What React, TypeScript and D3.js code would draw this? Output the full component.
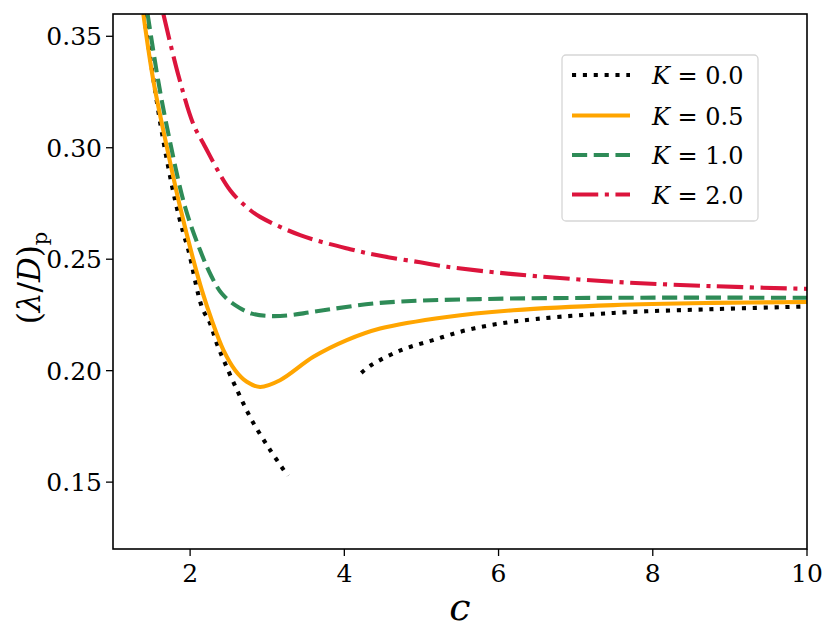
import * as d3 from "d3";
import { useEffect, useRef } from "react";

// K = 0.0 has two separate branches
const cK0a = [1.40, 1.51, 1.64, 1.805, 1.909, 1.978, 2.152, 2.259, 2.346, 2.454, 2.626, 2.80, 3.038, 3.267];
const yK0a = [0.360, 0.3339, 0.3056, 0.2765, 0.2621, 0.254, 0.2286, 0.2212, 0.2122, 0.2032, 0.190, 0.1778, 0.1644, 0.1528];
const cK0b = [4.22, 4.35, 4.72, 5.15, 5.6, 6.19, 7.49, 8.79, 10.0];
const yK0b = [0.199, 0.2025, 0.209, 0.2137, 0.2183, 0.222, 0.2259, 0.2276, 0.2288];

const cK05 = [1.394, 1.524, 1.698, 1.87, 2.043, 2.152, 2.281, 2.432, 2.584, 2.735, 2.907, 3.166, 3.599, 4.032, 4.464, 5.329, 6.193, 7.49, 8.787, 10.0];
const yK05 = [0.3599, 0.330, 0.3004, 0.2734, 0.2496, 0.2361, 0.2226, 0.2092, 0.2002, 0.195, 0.1927, 0.1957, 0.2062, 0.2137, 0.2189, 0.2241, 0.2271, 0.2294, 0.2304, 0.2308];

const cK1 = [1.449, 1.585, 1.719, 1.935, 2.13, 2.281, 2.411, 2.584, 2.80, 3.05, 3.298, 3.599, 4.464, 5.761, 7.49, 10.0];
const yK1 = [0.3599, 0.3303, 0.3061, 0.2734, 0.254, 0.242, 0.2346, 0.2294, 0.2256, 0.2245, 0.2249, 0.2264, 0.2304, 0.2321, 0.2327, 0.2327];

const cK2 = [1.654, 1.844, 2.043, 2.172, 2.519, 2.756, 2.907, 3.427, 4.075, 4.503, 4.983, 5.333, 6.189, 7.486, 8.783, 10.0];
const yK2 = [0.3599, 0.333, 0.3105, 0.3019, 0.2809, 0.2727, 0.269, 0.2608, 0.2545, 0.2513, 0.2486, 0.2466, 0.2433, 0.2399, 0.2379, 0.2367];

const xTicks = [2, 4, 6, 8, 10];
const yTicks = [0.15, 0.2, 0.25, 0.3, 0.35];
const legendLabels = ["0.0", "0.5", "1.0", "2.0"];

const W = 831;
const H = 638;
const LW = 4.1;

const styles = [
  { color: "#000000", dash: `${1 * LW},${1.65 * LW}` },
  { color: "#ffa500", dash: "none" },
  { color: "#2e8b57", dash: `${3.7 * LW},${1.6 * LW}` },
  { color: "#dc143c", dash: `${6.4 * LW},${1.6 * LW},${1 * LW},${1.6 * LW}` },
];

const FONT = '"DejaVu Serif", serif';

const zip = (cs: number[], ys: number[]) => cs.map((c, i) => ({ c, y: ys[i] }));

const App = () => {
  const svgRef = useRef<SVGSVGElement | null>(null);

  useEffect(() => {
    const left = 113, right = 807, top = 14, bottom = 549;
    const svg = d3.select(svgRef.current);
    svg.selectAll("*").remove();

    const x = d3.scaleLinear().domain([1, 10]).range([left, right]);
    const y = d3.scaleLinear().domain([0.12, 0.36]).range([bottom, top]);

    svg
      .append("defs")
      .append("clipPath")
      .attr("id", "plot-clip")
      .append("rect")
      .attr("x", left)
      .attr("y", top)
      .attr("width", right - left)
      .attr("height", bottom - top);

    const line = d3
      .line<{ c: number; y: number }>()
      .x((d) => x(d.c))
      .y((d) => y(d.y))
      .curve(d3.curveCatmullRom.alpha(0.5));

    const series = [
      { data: [zip(cK0a, yK0a), zip(cK0b, yK0b)], s: styles[0] },
      { data: [zip(cK05, yK05)], s: styles[1] },
      { data: [zip(cK1, yK1)], s: styles[2] },
      { data: [zip(cK2, yK2)], s: styles[3] },
    ];

    const g = svg.append("g").attr("clip-path", "url(#plot-clip)");
    series.forEach(({ data, s }) => {
      data.forEach((pts) => {
        g.append("path")
          .attr("d", line(pts))
          .attr("fill", "none")
          .attr("stroke", s.color)
          .attr("stroke-width", LW)
          .attr("stroke-dasharray", s.dash);
      });
    });

    // frame
    svg
      .append("rect")
      .attr("x", left)
      .attr("y", top)
      .attr("width", right - left)
      .attr("height", bottom - top)
      .attr("fill", "none")
      .attr("stroke", "#000")
      .attr("stroke-width", 1.6);

    const txt = svg.append("g").style("font-family", FONT);

    // x ticks
    xTicks.forEach((t) => {
      svg.append("line")
        .attr("x1", x(t)).attr("x2", x(t))
        .attr("y1", bottom).attr("y2", bottom + 7)
        .attr("stroke", "#000").attr("stroke-width", 1.3);
      txt.append("text")
        .attr("x", x(t)).attr("y", bottom + 33)
        .attr("text-anchor", "middle")
        .style("font-size", "25px")
        .text(String(t));
    });

    // y ticks
    yTicks.forEach((t) => {
      svg.append("line")
        .attr("x1", left - 7).attr("x2", left)
        .attr("y1", y(t)).attr("y2", y(t))
        .attr("stroke", "#000").attr("stroke-width", 1.3);
      txt.append("text")
        .attr("x", left - 11).attr("y", y(t) + 9)
        .attr("text-anchor", "end")
        .style("font-size", "25px")
        .text(t.toFixed(2));
    });

    // axis labels
    txt.append("text")
      .attr("x", 460).attr("y", 620)
      .attr("text-anchor", "middle")
      .style("font-size", "38px")
      .style("font-style", "italic")
      .text("c");

    const yl = txt.append("text")
      .attr("transform", "translate(40,278) rotate(-90)")
      .attr("text-anchor", "middle")
      .style("font-size", "31px");
    yl.append("tspan").text("(");
    yl.append("tspan").style("font-style", "italic").text("λ");
    yl.append("tspan").text("/");
    yl.append("tspan").style("font-style", "italic").text("D");
    yl.append("tspan").text(")");
    yl.append("tspan").attr("dy", 7).style("font-size", "21px").text("p");

    // legend
    const lg = svg.append("g");
    lg.append("rect")
      .attr("x", 562).attr("y", 55).attr("width", 196).attr("height", 166)
      .attr("rx", 4)
      .attr("fill", "#fff").attr("fill-opacity", 0.8)
      .attr("stroke", "#d6d6d6").attr("stroke-width", 1.3);
    const rows = [75, 115.5, 155, 194.5];
    legendLabels.forEach((lab, i) => {
      lg.append("line")
        .attr("x1", 572).attr("x2", 630)
        .attr("y1", rows[i]).attr("y2", rows[i])
        .attr("stroke", styles[i].color)
        .attr("stroke-width", LW)
        .attr("stroke-dasharray", styles[i].dash);
      const t = lg.append("text")
        .attr("x", 652).attr("y", rows[i] + 9)
        .style("font-family", FONT)
        .style("font-size", "24px");
      t.append("tspan").style("font-style", "italic").text("K");
      t.append("tspan").text(" = " + lab);
    });
  }, []);

  return (
    <svg
      ref={svgRef}
      width={W}
      height={H}
      style={{ position: "absolute", left: 0, top: 0, background: "#fff" }}
    />
  );
};

export default App;
